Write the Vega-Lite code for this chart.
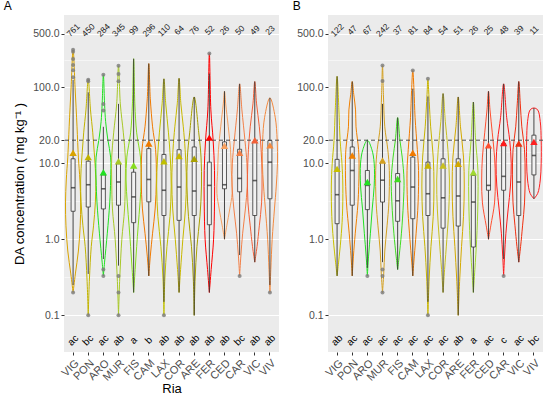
{
"$schema":"https://vega.github.io/schema/vega-lite/v6.json",
"padding":{"left":3,"top":0,"right":2,"bottom":0},
"bounds":"flush",
"config":{"font":"Liberation Sans","view":{"stroke":null,"fill":"#EBEBEB"},
"axis":{"domain":false,"tickColor":"#333333","tickSize":3,"labelColor":"#4D4D4D","labelFontSize":10.5,"titleFontSize":13,"titleFontWeight":"normal","titleColor":"#000000","gridColor":"#FFFFFF","labelPadding":2},
"title":{"fontSize":12,"fontWeight":"normal","anchor":"start","frame":"bounds","offset":2}},
"datasets":{
"vA":[
{"r":"VIG","v":0.2,"w":0},{"r":"VIG","v":0.35,"w":-0.15},{"r":"VIG","v":0.7,"w":-0.35},{"r":"VIG","v":1.5,"w":-0.47},{"r":"VIG","v":3,"w":-0.5},{"r":"VIG","v":6,"w":-0.45},{"r":"VIG","v":12,"w":-0.35},{"r":"VIG","v":30,"w":-0.26},{"r":"VIG","v":100,"w":-0.13},{"r":"VIG","v":309,"w":0},{"r":"VIG","v":100,"w":0.13},{"r":"VIG","v":30,"w":0.26},{"r":"VIG","v":12,"w":0.35},{"r":"VIG","v":6,"w":0.45},{"r":"VIG","v":3,"w":0.5},{"r":"VIG","v":1.5,"w":0.47},{"r":"VIG","v":0.7,"w":0.35},{"r":"VIG","v":0.35,"w":0.15},{"r":"VIG","v":0.2,"w":0},
{"r":"PON","v":0.1,"w":0},{"r":"PON","v":0.3,"w":-0.08},{"r":"PON","v":0.8,"w":-0.2},{"r":"PON","v":1.5,"w":-0.35},{"r":"PON","v":3,"w":-0.47},{"r":"PON","v":6,"w":-0.5},{"r":"PON","v":12,"w":-0.42},{"r":"PON","v":25,"w":-0.3},{"r":"PON","v":50,"w":-0.15},{"r":"PON","v":125,"w":0},{"r":"PON","v":50,"w":0.15},{"r":"PON","v":25,"w":0.3},{"r":"PON","v":12,"w":0.42},{"r":"PON","v":6,"w":0.5},{"r":"PON","v":3,"w":0.47},{"r":"PON","v":1.5,"w":0.35},{"r":"PON","v":0.8,"w":0.2},{"r":"PON","v":0.3,"w":0.08},{"r":"PON","v":0.1,"w":0},
{"r":"ARO","v":0.33,"w":0},{"r":"ARO","v":0.5,"w":-0.08},{"r":"ARO","v":1.2,"w":-0.26},{"r":"ARO","v":3,"w":-0.42},{"r":"ARO","v":6,"w":-0.48},{"r":"ARO","v":12,"w":-0.48},{"r":"ARO","v":20,"w":-0.3},{"r":"ARO","v":35,"w":-0.15},{"r":"ARO","v":60,"w":-0.08},{"r":"ARO","v":145,"w":0},{"r":"ARO","v":60,"w":0.08},{"r":"ARO","v":35,"w":0.15},{"r":"ARO","v":20,"w":0.3},{"r":"ARO","v":12,"w":0.48},{"r":"ARO","v":6,"w":0.48},{"r":"ARO","v":3,"w":0.42},{"r":"ARO","v":1.2,"w":0.26},{"r":"ARO","v":0.5,"w":0.08},{"r":"ARO","v":0.33,"w":0},
{"r":"MUR","v":0.1,"w":0},{"r":"MUR","v":0.3,"w":-0.08},{"r":"MUR","v":1,"w":-0.22},{"r":"MUR","v":2.5,"w":-0.4},{"r":"MUR","v":6,"w":-0.45},{"r":"MUR","v":12,"w":-0.45},{"r":"MUR","v":25,"w":-0.32},{"r":"MUR","v":60,"w":-0.12},{"r":"MUR","v":190,"w":0},{"r":"MUR","v":60,"w":0.12},{"r":"MUR","v":25,"w":0.32},{"r":"MUR","v":12,"w":0.45},{"r":"MUR","v":6,"w":0.45},{"r":"MUR","v":2.5,"w":0.4},{"r":"MUR","v":1,"w":0.22},{"r":"MUR","v":0.3,"w":0.08},{"r":"MUR","v":0.1,"w":0},
{"r":"FIS","v":0.2,"w":0},{"r":"FIS","v":0.4,"w":-0.1},{"r":"FIS","v":0.8,"w":-0.2},{"r":"FIS","v":1.5,"w":-0.3},{"r":"FIS","v":3,"w":-0.42},{"r":"FIS","v":6,"w":-0.5},{"r":"FIS","v":12,"w":-0.45},{"r":"FIS","v":25,"w":-0.2},{"r":"FIS","v":60,"w":-0.08},{"r":"FIS","v":235,"w":0},{"r":"FIS","v":60,"w":0.08},{"r":"FIS","v":25,"w":0.2},{"r":"FIS","v":12,"w":0.45},{"r":"FIS","v":6,"w":0.5},{"r":"FIS","v":3,"w":0.42},{"r":"FIS","v":1.5,"w":0.3},{"r":"FIS","v":0.8,"w":0.2},{"r":"FIS","v":0.4,"w":0.1},{"r":"FIS","v":0.2,"w":0},
{"r":"CAM","v":0.33,"w":0},{"r":"CAM","v":0.6,"w":-0.1},{"r":"CAM","v":1.2,"w":-0.25},{"r":"CAM","v":2.5,"w":-0.42},{"r":"CAM","v":6,"w":-0.5},{"r":"CAM","v":15,"w":-0.45},{"r":"CAM","v":30,"w":-0.25},{"r":"CAM","v":70,"w":-0.1},{"r":"CAM","v":203,"w":0},{"r":"CAM","v":70,"w":0.1},{"r":"CAM","v":30,"w":0.25},{"r":"CAM","v":15,"w":0.45},{"r":"CAM","v":6,"w":0.5},{"r":"CAM","v":2.5,"w":0.42},{"r":"CAM","v":1.2,"w":0.25},{"r":"CAM","v":0.6,"w":0.1},{"r":"CAM","v":0.33,"w":0},
{"r":"LAX","v":0.1,"w":0},{"r":"LAX","v":0.3,"w":-0.06},{"r":"LAX","v":0.8,"w":-0.2},{"r":"LAX","v":2,"w":-0.4},{"r":"LAX","v":5,"w":-0.48},{"r":"LAX","v":12,"w":-0.42},{"r":"LAX","v":25,"w":-0.3},{"r":"LAX","v":60,"w":-0.12},{"r":"LAX","v":128,"w":0},{"r":"LAX","v":60,"w":0.12},{"r":"LAX","v":25,"w":0.3},{"r":"LAX","v":12,"w":0.42},{"r":"LAX","v":5,"w":0.48},{"r":"LAX","v":2,"w":0.4},{"r":"LAX","v":0.8,"w":0.2},{"r":"LAX","v":0.3,"w":0.06},{"r":"LAX","v":0.1,"w":0},
{"r":"COR","v":0.2,"w":0},{"r":"COR","v":0.4,"w":-0.1},{"r":"COR","v":1,"w":-0.25},{"r":"COR","v":2.5,"w":-0.42},{"r":"COR","v":6,"w":-0.48},{"r":"COR","v":15,"w":-0.4},{"r":"COR","v":30,"w":-0.28},{"r":"COR","v":60,"w":-0.12},{"r":"COR","v":130,"w":0},{"r":"COR","v":60,"w":0.12},{"r":"COR","v":30,"w":0.28},{"r":"COR","v":15,"w":0.4},{"r":"COR","v":6,"w":0.48},{"r":"COR","v":2.5,"w":0.42},{"r":"COR","v":1,"w":0.25},{"r":"COR","v":0.4,"w":0.1},{"r":"COR","v":0.2,"w":0},
{"r":"ARE","v":0.1,"w":0},{"r":"ARE","v":0.3,"w":-0.06},{"r":"ARE","v":0.8,"w":-0.18},{"r":"ARE","v":2,"w":-0.38},{"r":"ARE","v":5,"w":-0.48},{"r":"ARE","v":12,"w":-0.45},{"r":"ARE","v":25,"w":-0.3},{"r":"ARE","v":74,"w":0},{"r":"ARE","v":25,"w":0.3},{"r":"ARE","v":12,"w":0.45},{"r":"ARE","v":5,"w":0.48},{"r":"ARE","v":2,"w":0.38},{"r":"ARE","v":0.8,"w":0.18},{"r":"ARE","v":0.3,"w":0.06},{"r":"ARE","v":0.1,"w":0},
{"r":"FER","v":0.2,"w":0},{"r":"FER","v":0.4,"w":-0.12},{"r":"FER","v":1,"w":-0.28},{"r":"FER","v":3,"w":-0.34},{"r":"FER","v":8,"w":-0.34},{"r":"FER","v":20,"w":-0.25},{"r":"FER","v":50,"w":-0.1},{"r":"FER","v":276,"w":0},{"r":"FER","v":50,"w":0.1},{"r":"FER","v":20,"w":0.25},{"r":"FER","v":8,"w":0.34},{"r":"FER","v":3,"w":0.34},{"r":"FER","v":1,"w":0.28},{"r":"FER","v":0.4,"w":0.12},{"r":"FER","v":0.2,"w":0},
{"r":"CED","v":1,"w":0},{"r":"CED","v":1.5,"w":-0.15},{"r":"CED","v":2.5,"w":-0.35},{"r":"CED","v":4,"w":-0.5},{"r":"CED","v":8,"w":-0.45},{"r":"CED","v":15,"w":-0.4},{"r":"CED","v":30,"w":-0.25},{"r":"CED","v":60,"w":-0.08},{"r":"CED","v":88,"w":0},{"r":"CED","v":60,"w":0.08},{"r":"CED","v":30,"w":0.25},{"r":"CED","v":15,"w":0.4},{"r":"CED","v":8,"w":0.45},{"r":"CED","v":4,"w":0.5},{"r":"CED","v":2.5,"w":0.35},{"r":"CED","v":1.5,"w":0.15},{"r":"CED","v":1,"w":0},
{"r":"CAR","v":0.33,"w":0},{"r":"CAR","v":0.6,"w":-0.08},{"r":"CAR","v":1.2,"w":-0.2},{"r":"CAR","v":2.5,"w":-0.38},{"r":"CAR","v":5,"w":-0.5},{"r":"CAR","v":10,"w":-0.48},{"r":"CAR","v":20,"w":-0.35},{"r":"CAR","v":50,"w":-0.15},{"r":"CAR","v":110,"w":0},{"r":"CAR","v":50,"w":0.15},{"r":"CAR","v":20,"w":0.35},{"r":"CAR","v":10,"w":0.48},{"r":"CAR","v":5,"w":0.5},{"r":"CAR","v":2.5,"w":0.38},{"r":"CAR","v":1.2,"w":0.2},{"r":"CAR","v":0.6,"w":0.08},{"r":"CAR","v":0.33,"w":0},
{"r":"VIC","v":0.5,"w":0},{"r":"VIC","v":0.8,"w":-0.15},{"r":"VIC","v":1.5,"w":-0.3},{"r":"VIC","v":3,"w":-0.45},{"r":"VIC","v":7,"w":-0.48},{"r":"VIC","v":15,"w":-0.42},{"r":"VIC","v":30,"w":-0.3},{"r":"VIC","v":60,"w":-0.12},{"r":"VIC","v":118,"w":0},{"r":"VIC","v":60,"w":0.12},{"r":"VIC","v":30,"w":0.3},{"r":"VIC","v":15,"w":0.42},{"r":"VIC","v":7,"w":0.48},{"r":"VIC","v":3,"w":0.45},{"r":"VIC","v":1.5,"w":0.3},{"r":"VIC","v":0.8,"w":0.15},{"r":"VIC","v":0.5,"w":0},
{"r":"VIV","v":0.2,"w":0},{"r":"VIV","v":0.4,"w":-0.06},{"r":"VIV","v":1,"w":-0.15},{"r":"VIV","v":2.5,"w":-0.3},{"r":"VIV","v":5,"w":-0.42},{"r":"VIV","v":10,"w":-0.5},{"r":"VIV","v":20,"w":-0.48},{"r":"VIV","v":40,"w":-0.35},{"r":"VIV","v":72,"w":0},{"r":"VIV","v":40,"w":0.35},{"r":"VIV","v":20,"w":0.48},{"r":"VIV","v":10,"w":0.5},{"r":"VIV","v":5,"w":0.42},{"r":"VIV","v":2.5,"w":0.3},{"r":"VIV","v":1,"w":0.15},{"r":"VIV","v":0.4,"w":0.06},{"r":"VIV","v":0.2,"w":0}
],
"vB":[
{"r":"VIG","v":0.33,"w":0},{"r":"VIG","v":0.5,"w":-0.1},{"r":"VIG","v":1,"w":-0.25},{"r":"VIG","v":2,"w":-0.35},{"r":"VIG","v":5,"w":-0.38},{"r":"VIG","v":10,"w":-0.32},{"r":"VIG","v":20,"w":-0.2},{"r":"VIG","v":50,"w":-0.12},{"r":"VIG","v":138,"w":0},{"r":"VIG","v":50,"w":0.12},{"r":"VIG","v":20,"w":0.2},{"r":"VIG","v":10,"w":0.32},{"r":"VIG","v":5,"w":0.38},{"r":"VIG","v":2,"w":0.35},{"r":"VIG","v":1,"w":0.25},{"r":"VIG","v":0.5,"w":0.1},{"r":"VIG","v":0.33,"w":0},
{"r":"PON","v":0.33,"w":0},{"r":"PON","v":0.6,"w":-0.08},{"r":"PON","v":1.2,"w":-0.2},{"r":"PON","v":3,"w":-0.38},{"r":"PON","v":8,"w":-0.45},{"r":"PON","v":15,"w":-0.42},{"r":"PON","v":30,"w":-0.25},{"r":"PON","v":50,"w":-0.22},{"r":"PON","v":80,"w":-0.1},{"r":"PON","v":118,"w":0},{"r":"PON","v":80,"w":0.1},{"r":"PON","v":50,"w":0.22},{"r":"PON","v":30,"w":0.25},{"r":"PON","v":15,"w":0.42},{"r":"PON","v":8,"w":0.45},{"r":"PON","v":3,"w":0.38},{"r":"PON","v":1.2,"w":0.2},{"r":"PON","v":0.6,"w":0.08},{"r":"PON","v":0.33,"w":0},
{"r":"ARO","v":0.33,"w":0},{"r":"ARO","v":0.6,"w":-0.08},{"r":"ARO","v":1.2,"w":-0.2},{"r":"ARO","v":2.5,"w":-0.32},{"r":"ARO","v":5,"w":-0.45},{"r":"ARO","v":10,"w":-0.45},{"r":"ARO","v":15,"w":-0.3},{"r":"ARO","v":20,"w":0},{"r":"ARO","v":15,"w":0.3},{"r":"ARO","v":10,"w":0.45},{"r":"ARO","v":5,"w":0.45},{"r":"ARO","v":2.5,"w":0.32},{"r":"ARO","v":1.2,"w":0.2},{"r":"ARO","v":0.6,"w":0.08},{"r":"ARO","v":0.33,"w":0},
{"r":"MUR","v":0.2,"w":0},{"r":"MUR","v":0.35,"w":-0.08},{"r":"MUR","v":0.7,"w":-0.15},{"r":"MUR","v":1.5,"w":-0.3},{"r":"MUR","v":3,"w":-0.42},{"r":"MUR","v":8,"w":-0.45},{"r":"MUR","v":15,"w":-0.35},{"r":"MUR","v":30,"w":-0.15},{"r":"MUR","v":80,"w":-0.06},{"r":"MUR","v":191,"w":0},{"r":"MUR","v":80,"w":0.06},{"r":"MUR","v":30,"w":0.15},{"r":"MUR","v":15,"w":0.35},{"r":"MUR","v":8,"w":0.45},{"r":"MUR","v":3,"w":0.42},{"r":"MUR","v":1.5,"w":0.3},{"r":"MUR","v":0.7,"w":0.15},{"r":"MUR","v":0.35,"w":0.08},{"r":"MUR","v":0.2,"w":0},
{"r":"FIS","v":0.4,"w":0},{"r":"FIS","v":0.6,"w":-0.1},{"r":"FIS","v":1.2,"w":-0.25},{"r":"FIS","v":3,"w":-0.38},{"r":"FIS","v":6,"w":-0.42},{"r":"FIS","v":12,"w":-0.3},{"r":"FIS","v":20,"w":-0.15},{"r":"FIS","v":39.6,"w":0},{"r":"FIS","v":20,"w":0.15},{"r":"FIS","v":12,"w":0.3},{"r":"FIS","v":6,"w":0.42},{"r":"FIS","v":3,"w":0.38},{"r":"FIS","v":1.2,"w":0.25},{"r":"FIS","v":0.6,"w":0.1},{"r":"FIS","v":0.4,"w":0},
{"r":"CAM","v":0.33,"w":0},{"r":"CAM","v":0.6,"w":-0.1},{"r":"CAM","v":1.2,"w":-0.22},{"r":"CAM","v":3,"w":-0.35},{"r":"CAM","v":8,"w":-0.38},{"r":"CAM","v":15,"w":-0.3},{"r":"CAM","v":40,"w":-0.15},{"r":"CAM","v":90,"w":-0.08},{"r":"CAM","v":165,"w":0},{"r":"CAM","v":90,"w":0.08},{"r":"CAM","v":40,"w":0.15},{"r":"CAM","v":15,"w":0.3},{"r":"CAM","v":8,"w":0.38},{"r":"CAM","v":3,"w":0.35},{"r":"CAM","v":1.2,"w":0.22},{"r":"CAM","v":0.6,"w":0.1},{"r":"CAM","v":0.33,"w":0},
{"r":"LAX","v":0.1,"w":0},{"r":"LAX","v":0.3,"w":-0.08},{"r":"LAX","v":0.8,"w":-0.2},{"r":"LAX","v":2,"w":-0.35},{"r":"LAX","v":5,"w":-0.4},{"r":"LAX","v":12,"w":-0.35},{"r":"LAX","v":30,"w":-0.18},{"r":"LAX","v":80,"w":-0.06},{"r":"LAX","v":128,"w":0},{"r":"LAX","v":80,"w":0.06},{"r":"LAX","v":30,"w":0.18},{"r":"LAX","v":12,"w":0.35},{"r":"LAX","v":5,"w":0.4},{"r":"LAX","v":2,"w":0.35},{"r":"LAX","v":0.8,"w":0.2},{"r":"LAX","v":0.3,"w":0.08},{"r":"LAX","v":0.1,"w":0},
{"r":"COR","v":0.2,"w":0},{"r":"COR","v":0.4,"w":-0.1},{"r":"COR","v":1,"w":-0.25},{"r":"COR","v":2.5,"w":-0.38},{"r":"COR","v":6,"w":-0.42},{"r":"COR","v":15,"w":-0.32},{"r":"COR","v":35,"w":-0.15},{"r":"COR","v":82,"w":0},{"r":"COR","v":35,"w":0.15},{"r":"COR","v":15,"w":0.32},{"r":"COR","v":6,"w":0.42},{"r":"COR","v":2.5,"w":0.38},{"r":"COR","v":1,"w":0.25},{"r":"COR","v":0.4,"w":0.1},{"r":"COR","v":0.2,"w":0},
{"r":"ARE","v":0.1,"w":0},{"r":"ARE","v":0.3,"w":-0.1},{"r":"ARE","v":0.8,"w":-0.22},{"r":"ARE","v":2,"w":-0.35},{"r":"ARE","v":5,"w":-0.4},{"r":"ARE","v":12,"w":-0.35},{"r":"ARE","v":30,"w":-0.15},{"r":"ARE","v":74,"w":0},{"r":"ARE","v":30,"w":0.15},{"r":"ARE","v":12,"w":0.35},{"r":"ARE","v":5,"w":0.4},{"r":"ARE","v":2,"w":0.35},{"r":"ARE","v":0.8,"w":0.22},{"r":"ARE","v":0.3,"w":0.1},{"r":"ARE","v":0.1,"w":0},
{"r":"FER","v":0.2,"w":0},{"r":"FER","v":0.4,"w":-0.1},{"r":"FER","v":1,"w":-0.22},{"r":"FER","v":3,"w":-0.3},{"r":"FER","v":8,"w":-0.3},{"r":"FER","v":20,"w":-0.15},{"r":"FER","v":63.5,"w":0},{"r":"FER","v":20,"w":0.15},{"r":"FER","v":8,"w":0.3},{"r":"FER","v":3,"w":0.3},{"r":"FER","v":1,"w":0.22},{"r":"FER","v":0.4,"w":0.1},{"r":"FER","v":0.2,"w":0},
{"r":"CED","v":1,"w":0},{"r":"CED","v":1.5,"w":-0.15},{"r":"CED","v":3,"w":-0.4},{"r":"CED","v":6,"w":-0.45},{"r":"CED","v":12,"w":-0.4},{"r":"CED","v":25,"w":-0.25},{"r":"CED","v":50,"w":-0.1},{"r":"CED","v":88,"w":0},{"r":"CED","v":50,"w":0.1},{"r":"CED","v":25,"w":0.25},{"r":"CED","v":12,"w":0.4},{"r":"CED","v":6,"w":0.45},{"r":"CED","v":3,"w":0.4},{"r":"CED","v":1.5,"w":0.15},{"r":"CED","v":1,"w":0},
{"r":"CAR","v":0.33,"w":0},{"r":"CAR","v":0.6,"w":-0.06},{"r":"CAR","v":1.2,"w":-0.15},{"r":"CAR","v":2.5,"w":-0.3},{"r":"CAR","v":5,"w":-0.45},{"r":"CAR","v":10,"w":-0.5},{"r":"CAR","v":20,"w":-0.4},{"r":"CAR","v":40,"w":-0.2},{"r":"CAR","v":110,"w":0},{"r":"CAR","v":40,"w":0.2},{"r":"CAR","v":20,"w":0.4},{"r":"CAR","v":10,"w":0.5},{"r":"CAR","v":5,"w":0.45},{"r":"CAR","v":2.5,"w":0.3},{"r":"CAR","v":1.2,"w":0.15},{"r":"CAR","v":0.6,"w":0.06},{"r":"CAR","v":0.33,"w":0},
{"r":"VIC","v":0.5,"w":0},{"r":"VIC","v":0.8,"w":-0.12},{"r":"VIC","v":1.5,"w":-0.25},{"r":"VIC","v":3,"w":-0.38},{"r":"VIC","v":7,"w":-0.42},{"r":"VIC","v":15,"w":-0.38},{"r":"VIC","v":30,"w":-0.2},{"r":"VIC","v":60,"w":-0.1},{"r":"VIC","v":118,"w":0},{"r":"VIC","v":60,"w":0.1},{"r":"VIC","v":30,"w":0.2},{"r":"VIC","v":15,"w":0.38},{"r":"VIC","v":7,"w":0.42},{"r":"VIC","v":3,"w":0.38},{"r":"VIC","v":1.5,"w":0.25},{"r":"VIC","v":0.8,"w":0.12},{"r":"VIC","v":0.5,"w":0},
{"r":"VIV","v":3.4,"w":0},{"r":"VIV","v":4,"w":-0.25},{"r":"VIV","v":6,"w":-0.42},{"r":"VIV","v":10,"w":-0.48},{"r":"VIV","v":20,"w":-0.48},{"r":"VIV","v":35,"w":-0.42},{"r":"VIV","v":50,"w":-0.25},{"r":"VIV","v":53,"w":0},{"r":"VIV","v":50,"w":0.25},{"r":"VIV","v":35,"w":0.42},{"r":"VIV","v":20,"w":0.48},{"r":"VIV","v":10,"w":0.48},{"r":"VIV","v":6,"w":0.42},{"r":"VIV","v":4,"w":0.25},{"r":"VIV","v":3.4,"w":0}
],
"sA":[
{"r":"VIG","n":"761","g":"ac","lo":0.25,"q1":2.33,"md":4.75,"q3":11.4,"hi":124,"mn":13.7},
{"r":"PON","n":"450","g":"bc","lo":0.35,"q1":2.65,"md":5.2,"q3":10.6,"hi":85,"mn":12},
{"r":"ARO","n":"284","g":"ac","lo":0.55,"q1":2.5,"md":4.6,"q3":7.0,"hi":30,"mn":7.6},
{"r":"MUR","n":"345","g":"ab","lo":0.45,"q1":2.8,"md":5.65,"q3":9.8,"hi":60,"mn":10.6},
{"r":"FIS","n":"99","g":"a","lo":0.2,"q1":1.65,"md":3.6,"q3":7.6,"hi":235,"mn":9.3},
{"r":"CAM","n":"296","g":"b","lo":0.33,"q1":3.1,"md":6.1,"q3":15.5,"hi":203,"mn":18.1},
{"r":"LAX","n":"110","g":"ab","lo":0.15,"q1":2.05,"md":4.4,"q3":13.0,"hi":128,"mn":10.6},
{"r":"COR","n":"64","g":"ab","lo":0.2,"q1":1.77,"md":4.85,"q3":15.0,"hi":130,"mn":12.4},
{"r":"ARE","n":"76","g":"ab","lo":0.1,"q1":2.05,"md":4.3,"q3":16.3,"hi":74,"mn":11.4},
{"r":"FER","n":"52","g":"ab","lo":0.2,"q1":1.55,"md":5.1,"q3":10.3,"hi":150,"mn":21.6},
{"r":"CED","n":"26","g":"ab","lo":1.0,"q1":4.6,"md":5.2,"q3":19.0,"hi":88,"mn":16.9},
{"r":"CAR","n":"50","g":"bc","lo":0.62,"q1":4.2,"md":6.3,"q3":15.2,"hi":110,"mn":13.7},
{"r":"VIC","n":"49","g":"ab","lo":0.5,"q1":2.05,"md":5.9,"q3":19.0,"hi":118,"mn":20},
{"r":"VIV","n":"23","g":"ab","lo":0.25,"q1":3.4,"md":10.3,"q3":19.8,"hi":72,"mn":17.1}
],
"sB":[
{"r":"VIG","n":"122","g":"ab","lo":0.33,"q1":1.6,"md":3.85,"q3":11.2,"hi":138,"mn":8.4},
{"r":"PON","n":"47","g":"ac","lo":0.33,"q1":2.8,"md":8.0,"q3":16.3,"hi":118,"mn":12.6},
{"r":"ARO","n":"67","g":"ac","lo":0.42,"q1":2.45,"md":5.1,"q3":8.0,"hi":20,"mn":5.65},
{"r":"MUR","n":"242","g":"ac","lo":0.5,"q1":3.08,"md":5.97,"q3":10.3,"hi":60,"mn":10.8},
{"r":"FIS","n":"37","g":"ac","lo":0.4,"q1":1.72,"md":3.2,"q3":7.3,"hi":39.6,"mn":6.2},
{"r":"CAM","n":"81","g":"ac","lo":0.33,"q1":1.86,"md":4.85,"q3":12.0,"hi":95,"mn":13.7},
{"r":"LAX","n":"84","g":"ac","lo":0.15,"q1":2.05,"md":3.96,"q3":10.3,"hi":75,"mn":9.3},
{"r":"COR","n":"54","g":"ac","lo":0.2,"q1":1.4,"md":3.5,"q3":11.4,"hi":82,"mn":9.3},
{"r":"ARE","n":"51","g":"ab","lo":0.1,"q1":1.49,"md":3.7,"q3":11.4,"hi":74,"mn":9.8},
{"r":"FER","n":"26","g":"a","lo":0.2,"q1":0.79,"md":3.08,"q3":6.9,"hi":63.5,"mn":7.6},
{"r":"CED","n":"25","g":"ac","lo":1.0,"q1":4.4,"md":5.1,"q3":16.3,"hi":88,"mn":17.1},
{"r":"CAR","n":"48","g":"c","lo":0.55,"q1":4.4,"md":6.7,"q3":18.1,"hi":110,"mn":18.4},
{"r":"VIC","n":"39","g":"ac","lo":0.5,"q1":2.05,"md":5.65,"q3":17.5,"hi":118,"mn":18.1},
{"r":"VIV","n":"11","g":"bc","lo":3.4,"q1":7.0,"md":12.6,"q3":23.3,"hi":53,"mn":19}
],
"oA":[
{"r":"VIG","v":309},{"r":"VIG","v":290},{"r":"VIG","v":234},{"r":"VIG","v":195},{"r":"VIG","v":166},{"r":"VIG","v":134},{"r":"VIG","v":0.2},
{"r":"PON","v":125},{"r":"PON","v":119},{"r":"PON","v":0.1},
{"r":"ARO","v":145},{"r":"ARO","v":60},{"r":"ARO","v":49},{"r":"ARO","v":0.4},{"r":"ARO","v":0.33},
{"r":"MUR","v":190},{"r":"MUR","v":148},{"r":"MUR","v":119},{"r":"MUR","v":0.33},{"r":"MUR","v":0.2},{"r":"MUR","v":0.1},
{"r":"LAX","v":0.1},{"r":"FER","v":276},{"r":"CAR","v":0.33},{"r":"VIV","v":0.2}
],
"oB":[
{"r":"MUR","v":191},{"r":"MUR","v":120},{"r":"MUR","v":0.4},{"r":"MUR","v":0.33},{"r":"MUR","v":0.2},
{"r":"CAM","v":165},{"r":"LAX","v":128},{"r":"LAX","v":0.1},{"r":"ARO","v":0.33},{"r":"CAR","v":0.33}
]
},
"spacing":49,
"resolve":{"scale":{"color":"independent"}},
"hconcat":[
{"width":215,"height":337,"title":{"text":"A","dx":-10},
"layer":[
{"data":{"name":"vA"},"mark":{"type":"line","strokeWidth":1,"interpolate":"catmull-rom"},
"encoding":{
"x":{"field":"r","type":"nominal","scale":{"domain":["VIG","PON","ARO","MUR","FIS","CAM","LAX","COR","ARE","FER","CED","CAR","VIC","VIV"],"paddingInner":0,"paddingOuter":0.1},"axis":{"title":"Ria","labelAngle":-45,"labelAlign":"right","labelBaseline":"top","labelFontSize":11,"gridWidth":1.1,"titlePadding":0}},
"xOffset":{"field":"w","type":"quantitative","scale":{"domain":[-0.5,0.5]}},
"y":{"field":"v","type":"quantitative","scale":{"type":"log","domain":[0.033,883],"nice":false},"axis":{"title":"DA concentration ( mg kg⁻¹ )","titlePadding":6,"values":[0.1,0.3162,1,3.162,10,14.14,20,44.72,100,223.6,500],"format":".1f","labelExpr":"indexof([0.1,1,10,20,100,500], datum.value) >= 0 ? datum.label : ''","tickOpacity":{"condition":{"test":"indexof([0.1,1,10,20,100,500], datum.value) >= 0","value":1},"value":0},"gridWidth":{"condition":{"test":"indexof([0.1,1,10,20,100,500], datum.value) >= 0","value":1.1},"value":0.5}}},
"color":{"field":"r","type":"nominal","scale":{"domain":["VIG","PON","ARO","MUR","FIS","CAM","LAX","COR","ARE","FER","CED","CAR","VIC","VIV"],"range":["#D9A300","#C2B400","#22E022","#A8C828","#86DC1E","#F07A00","#C0C000","#C8B800","#A8A000","#FF0000","#F5A060","#F28048","#F26038","#F28A40"]},"legend":null},
"order":{"value":null}}},
{"data":{"values":[{}]},"mark":{"type":"rule","color":"#4D4D4D","strokeDash":[4,3],"strokeWidth":1},"encoding":{"y":{"datum":20}}},
{"data":{"name":"sA"},"mark":{"type":"rule","color":"#333333","strokeWidth":0.9},"encoding":{"x":{"field":"r","type":"nominal"},"y":{"field":"lo","type":"quantitative"},"y2":{"field":"hi"}}},
{"data":{"name":"sA"},"mark":{"type":"bar","width":4,"fill":"#F2F2F2","stroke":"#333333","strokeWidth":0.8},"encoding":{"x":{"field":"r","type":"nominal"},"y":{"field":"q1","type":"quantitative"},"y2":{"field":"q3"}}},
{"data":{"name":"sA"},"mark":{"type":"tick","color":"#222222","size":4,"thickness":1.6},"encoding":{"x":{"field":"r","type":"nominal"},"y":{"field":"md","type":"quantitative"}}},
{"data":{"name":"sA"},"mark":{"type":"point","shape":"triangle-up","filled":true,"size":55,"opacity":1},"encoding":{"x":{"field":"r","type":"nominal"},"y":{"field":"mn","type":"quantitative"},"color":{"field":"r","type":"nominal","legend":null}}},
{"data":{"name":"oA"},"mark":{"type":"point","filled":true,"size":16,"color":"#7A7A7A","opacity":0.8},"encoding":{"x":{"field":"r","type":"nominal"},"y":{"field":"v","type":"quantitative"}}},
{"data":{"name":"sA"},"mark":{"type":"text","angle":315,"fontSize":8.5,"color":"#222222"},"encoding":{"x":{"field":"r","type":"nominal"},"y":{"datum":560},"text":{"field":"n"}}},
{"data":{"name":"sA"},"mark":{"type":"text","angle":315,"fontSize":10,"color":"#000000"},"encoding":{"x":{"field":"r","type":"nominal"},"y":{"datum":0.047},"text":{"field":"g"}}}
]},
{"width":215,"height":337,"title":{"text":"B","dx":-4},
"layer":[
{"data":{"name":"vB"},"mark":{"type":"line","strokeWidth":1,"interpolate":"catmull-rom"},
"encoding":{
"x":{"field":"r","type":"nominal","scale":{"domain":["VIG","PON","ARO","MUR","FIS","CAM","LAX","COR","ARE","FER","CED","CAR","VIC","VIV"],"paddingInner":0,"paddingOuter":0.1},"axis":{"title":null,"labelAngle":-45,"labelAlign":"right","labelBaseline":"top","labelFontSize":11,"gridWidth":1.1}},
"xOffset":{"field":"w","type":"quantitative","scale":{"domain":[-0.5,0.5]}},
"y":{"field":"v","type":"quantitative","scale":{"type":"log","domain":[0.033,883],"nice":false},"axis":{"title":null,"values":[0.1,0.3162,1,3.162,10,14.14,20,44.72,100,223.6,500],"format":".1f","labelExpr":"indexof([0.1,1,10,20,100,500], datum.value) >= 0 ? datum.label : ''","tickOpacity":{"condition":{"test":"indexof([0.1,1,10,20,100,500], datum.value) >= 0","value":1},"value":0},"gridWidth":{"condition":{"test":"indexof([0.1,1,10,20,100,500], datum.value) >= 0","value":1.1},"value":0.5}}},
"color":{"field":"r","type":"nominal","scale":{"domain":["VIG","PON","ARO","MUR","FIS","CAM","LAX","COR","ARE","FER","CED","CAR","VIC","VIV"],"range":["#C8C000","#F08000","#22E022","#D4A020","#40DC20","#F07A00","#C8B400","#C8C020","#D4AA00","#A0D830","#FF5030","#FF1A1A","#F03010","#FF2020"]},"legend":null},
"order":{"value":null}}},
{"data":{"values":[{}]},"mark":{"type":"rule","color":"#4D4D4D","strokeDash":[4,3],"strokeWidth":1},"encoding":{"y":{"datum":20}}},
{"data":{"name":"sB"},"mark":{"type":"rule","color":"#333333","strokeWidth":0.9},"encoding":{"x":{"field":"r","type":"nominal"},"y":{"field":"lo","type":"quantitative"},"y2":{"field":"hi"}}},
{"data":{"name":"sB"},"mark":{"type":"bar","width":4,"fill":"#F2F2F2","stroke":"#333333","strokeWidth":0.8},"encoding":{"x":{"field":"r","type":"nominal"},"y":{"field":"q1","type":"quantitative"},"y2":{"field":"q3"}}},
{"data":{"name":"sB"},"mark":{"type":"tick","color":"#222222","size":4,"thickness":1.6},"encoding":{"x":{"field":"r","type":"nominal"},"y":{"field":"md","type":"quantitative"}}},
{"data":{"name":"sB"},"mark":{"type":"point","shape":"triangle-up","filled":true,"size":55,"opacity":1},"encoding":{"x":{"field":"r","type":"nominal"},"y":{"field":"mn","type":"quantitative"},"color":{"field":"r","type":"nominal","legend":null}}},
{"data":{"name":"oB"},"mark":{"type":"point","filled":true,"size":16,"color":"#7A7A7A","opacity":0.8},"encoding":{"x":{"field":"r","type":"nominal"},"y":{"field":"v","type":"quantitative"}}},
{"data":{"name":"sB"},"mark":{"type":"text","angle":315,"fontSize":8.5,"color":"#222222"},"encoding":{"x":{"field":"r","type":"nominal"},"y":{"datum":560},"text":{"field":"n"}}},
{"data":{"name":"sB"},"mark":{"type":"text","angle":315,"fontSize":10,"color":"#000000"},"encoding":{"x":{"field":"r","type":"nominal"},"y":{"datum":0.047},"text":{"field":"g"}}}
]}
]
}
